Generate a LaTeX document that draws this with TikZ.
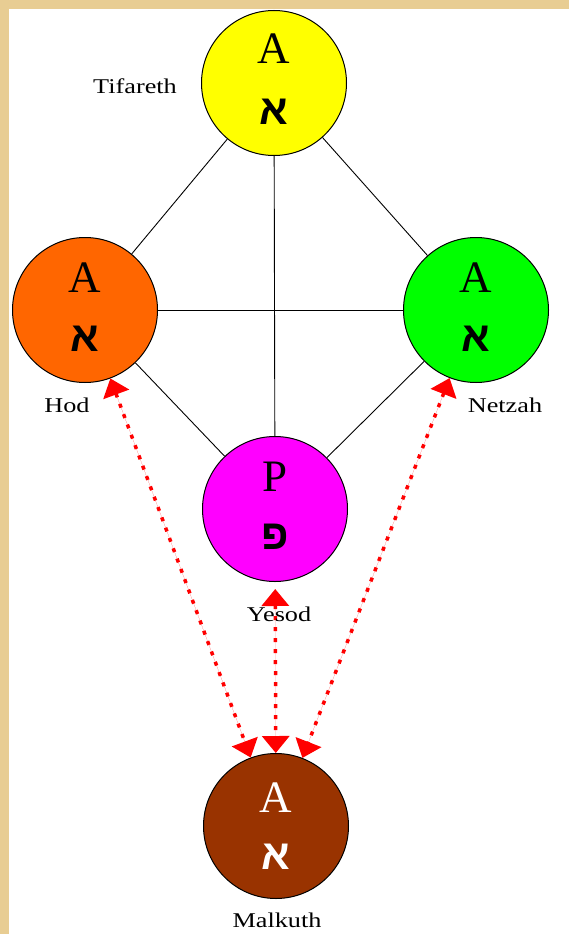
\documentclass[tikz,border=0pt]{standalone}
\usepackage{fontspec}
\setmainfont{Liberation Serif}
\newfontfamily\hebfont[Script=Hebrew]{Liberation Sans}
\newfontfamily\labelfont[FakeStretch=1.25]{Liberation Serif}
\TeXXeTstate=1
\usepackage{xcolor}
\definecolor{parchment}{HTML}{E8CD93}
\definecolor{tifyellow}{HTML}{FFFF00}
\definecolor{hodorange}{HTML}{FF6600}
\definecolor{netzgreen}{HTML}{00FF00}
\definecolor{yesodpink}{HTML}{FF00FF}
\definecolor{malkbrown}{HTML}{993300}
\definecolor{pathred}{HTML}{FF0000}
\usepackage{tikz}
\usetikzlibrary{arrows.meta}

\begin{document}
\begin{tikzpicture}[x=1pt, y=-1pt,
  sephira/.style={circle, draw=black, line width=1pt,
                  minimum size=145pt, inner sep=0pt},
  latinletter/.style={font=\fontsize{45}{45}\selectfont, inner sep=0pt},
  hebletter/.style={font=\hebfont\bfseries\fontsize{42}{42}\selectfont, inner sep=0pt},
  namelabel/.style={font=\labelfont\fontsize{21}{21}\selectfont, inner sep=0pt},
  link/.style={draw=black, line width=0.9pt},
  redpath/.style={{Triangle[length=17pt, width=27pt]}-{Triangle[length=17pt, width=27pt]},
                  draw=pathred, fill=pathred, line width=3.5pt,
                  dash pattern=on 4pt off 7pt}
]
\useasboundingbox (0,0) rectangle (569,934);

% ---- FOND ----
\fill[parchment] (0,0) rectangle (569,934);
\fill[white] (9,9) rectangle (569,934);

% ---- SEPHIROTH ----
\node[sephira, fill=tifyellow]  (tif)  at (274, 83)  {};
\node[sephira, fill=hodorange]  (hod)  at (85, 310)  {};
\node[sephira, fill=netzgreen]  (netz) at (476, 310) {};
\node[sephira, fill=yesodpink]  (yes)  at (275, 509) {};
\node[sephira, fill=malkbrown]  (malk) at (276, 826) {};

% ---- Chemins ----
\draw[link] (tif) -- (hod);
\draw[link] (tif) -- (netz);
\draw[link] (tif) -- (yes);
\draw[link] (hod) -- (netz);
\draw[link] (hod) -- (yes);
\draw[link] (netz) -- (yes);

% ---- Lettres ----
\node[latinletter] (tifA)  at (274, 49)  {A};
\node[hebletter]   (tifH)  at (274, 112) {\beginR א\endR};
\node[latinletter] (hodA)  at (85, 278)  {A};
\node[hebletter]   (hodH)  at (85, 339)  {\beginR א\endR};
\node[latinletter] (netzA) at (476, 278) {A};
\node[hebletter]   (netzH) at (476, 339) {\beginR א\endR};
\node[latinletter] (yesP)  at (275, 477) {P};
\node[hebletter]   (yesH)  at (275, 537) {\beginR פ\endR};
\node[latinletter, text=white] (malkA) at (276, 798) {A};
\node[hebletter, text=white]   (malkH) at (276, 857) {\beginR א\endR};

% ---- Fleches vers Malkuth ----
\draw[redpath] (hod) -- (malk);
\draw[redpath] (netz) -- (malk);
\draw[redpath, shorten <=7pt] (yes) -- (malk);

% ---- Noms ----
\node[namelabel] (tifname)  at (135, 86)  {Tifareth};
\node[namelabel] (hodname)  at (67, 405)  {Hod};
\node[namelabel] (netzname) at (505, 405) {Netzah};
\node[namelabel] (yesname)  at (279, 614) {Yesod};
\node[namelabel] (malkname) at (277, 920) {Malkuth};

\end{tikzpicture}
\end{document}
